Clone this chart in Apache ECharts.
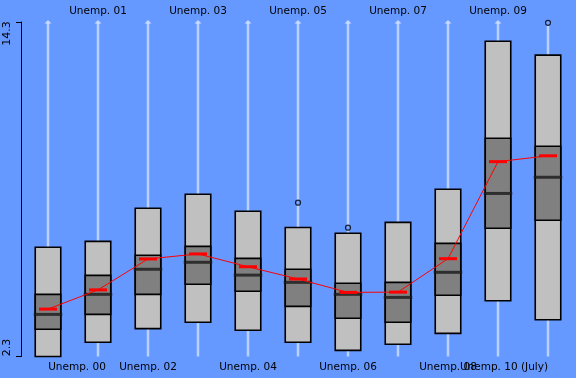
<!DOCTYPE html>
<html><head><meta charset="utf-8">
<script src="https://cdn.jsdelivr.net/npm/echarts@6/dist/echarts.min.js"></script>
<style>html,body{margin:0;padding:0;background:#6699ff;}#c{width:576px;height:378px;}</style>
</head><body><div id="c"></div>
<script>
const categories = ['Unemp. 00','Unemp. 01','Unemp. 02','Unemp. 03','Unemp. 04','Unemp. 05','Unemp. 06','Unemp. 07','Unemp. 08','Unemp. 09','Unemp. 10 (July)'];
const lowVals  = [2.30, 2.81, 3.30, 3.53, 3.24, 2.81, 2.52, 2.74, 3.13, 4.30, 3.62];
const q1Vals   = [3.28, 3.81, 4.53, 4.89, 4.64, 4.10, 3.67, 3.53, 4.50, 6.90, 7.19];
const medVals  = [3.81, 4.53, 5.43, 5.68, 5.22, 4.96, 4.53, 4.42, 5.32, 8.15, 8.73];
const q3Vals   = [4.53, 5.21, 5.93, 6.25, 5.82, 5.43, 4.93, 4.96, 6.36, 10.13, 9.84];
const highVals = [6.22, 6.43, 7.62, 8.12, 7.51, 6.93, 6.72, 7.11, 8.30, 13.61, 13.11];
const meanVals = [4.00, 4.69, 5.80, 5.98, 5.52, 5.08, 4.60, 4.61, 5.81, 9.29, 9.50];
const outliers = [[5, 7.82], [6, 6.92], [10, 14.27]];
const yMin = 2.3, yMax = 14.3;

const FONT = 'DejaVu Sans';
const boxData = categories.map((c,i)=>[i, lowVals[i], q1Vals[i], medVals[i], q3Vals[i], highVals[i]]);
const arrowData = categories.map((c,i)=>[i, yMin, yMax]);

const chart = echarts.init(document.getElementById('c'), null, {renderer:'canvas'});
chart.setOption({
  backgroundColor: '#6699ff',
  animation: false,
  grid: {left: 23, right: 3, top: 22, bottom: 21.5},
  xAxis: [
    {type:'category', data: categories, position:'bottom', boundaryGap:true,
     axisLine:{show:false}, axisTick:{show:false}, splitLine:{show:false},
     axisLabel:{interval:0, margin:5, color:'#000', fontFamily:FONT, fontSize:10.5,
       formatter:(v,i)=> i%2 ? '' : (i===0 ? '{first|'+v+'}' : (i===categories.length-1 ? '{last|'+v+'}' : v)),
       rich:{first:{fontFamily:FONT,fontSize:10.5,color:'#000',padding:[0,0,0,58]},
             last:{fontFamily:FONT,fontSize:10.5,color:'#000',padding:[0,88,0,0]}}}},
    {type:'category', data: categories, position:'top', boundaryGap:true,
     axisLine:{show:false}, axisTick:{show:false}, splitLine:{show:false},
     axisLabel:{interval:0, margin:5, color:'#000', fontFamily:FONT, fontSize:10.5,
       formatter:(v,i)=> i%2 ? v : ''}}
  ],
  yAxis: {type:'value', min:yMin, max:yMax, interval:12, offset:2,
    axisLine:{show:true, lineStyle:{color:'#000', width:1}},
    axisTick:{show:true, length:5, lineStyle:{color:'#000'}},
    splitLine:{show:false},
    axisLabel:{rotate:90, margin:8, color:'#000', fontFamily:FONT, fontSize:11,
      formatter:(v)=> v < 5 ? '{lo|'+v.toFixed(1)+'}' : '{hi|'+v.toFixed(1)+'}',
      rich:{lo:{fontFamily:FONT,fontSize:11,color:'#000',padding:[0,0,0,18]},
            hi:{fontFamily:FONT,fontSize:11,color:'#000',padding:[0,23,0,0]}}}},
  series: [
    {type:'custom', z:1, data: arrowData, encode:{x:0, y:[1,2]},
     renderItem:(params, api)=>{
       const b = api.coord([api.value(0), api.value(1)]);
       const t = api.coord([api.value(0), api.value(2)]);
       const st = {stroke:'rgba(255,255,255,0.55)', lineWidth:2.5};
       return {type:'group', children:[
         {type:'line', shape:{x1:b[0], y1:b[1], x2:t[0], y2:t[1]+1}, style:st},
         {type:'polygon', shape:{points:[[t[0]-3.5,t[1]+1.5],[t[0]+3.5,t[1]+1.5],[t[0],t[1]-2]]}, style:{fill:'rgba(255,255,255,0.6)'}}
       ]};
     }},
    {type:'custom', z:2, data: boxData, encode:{x:0, y:[1,2,3,4,5]},
     renderItem:(params, api)=>{
       const i = api.value(0);
       const w = api.size([1,0])[0]*0.51;
       const lo = api.coord([i, api.value(1)]);
       const q1 = api.coord([i, api.value(2)]);
       const md = api.coord([i, api.value(3)]);
       const q3 = api.coord([i, api.value(4)]);
       const hi = api.coord([i, api.value(5)]);
       const x = lo[0];
       return {type:'group', children:[
         {type:'rect', shape:{x:x-w/2, y:hi[1], width:w, height:lo[1]-hi[1]}, style:{fill:'#c0c0c0', stroke:'#000', lineWidth:1.6}},
         {type:'rect', shape:{x:x-w/2, y:q3[1], width:w, height:q1[1]-q3[1]}, style:{fill:'#808080', stroke:'#000', lineWidth:1.6}},
         {type:'line', shape:{x1:x-w/2-1.5, y1:md[1], x2:x+w/2+1.5, y2:md[1]}, style:{stroke:'rgba(25,25,25,0.8)', lineWidth:3}}
       ]};
     }},
    {type:'line', z:3, data: meanVals, symbol:'rect', symbolSize:[18,3], showSymbol:true,
     lineStyle:{color:'#ff0000', width:1}, itemStyle:{color:'#ff0000'}},
    {type:'scatter', z:3, data: outliers, symbol:'circle', symbolSize:5,
     itemStyle:{color:'#6699ff', borderColor:'#000', borderWidth:1.2}}
  ]
});
</script></body></html>
